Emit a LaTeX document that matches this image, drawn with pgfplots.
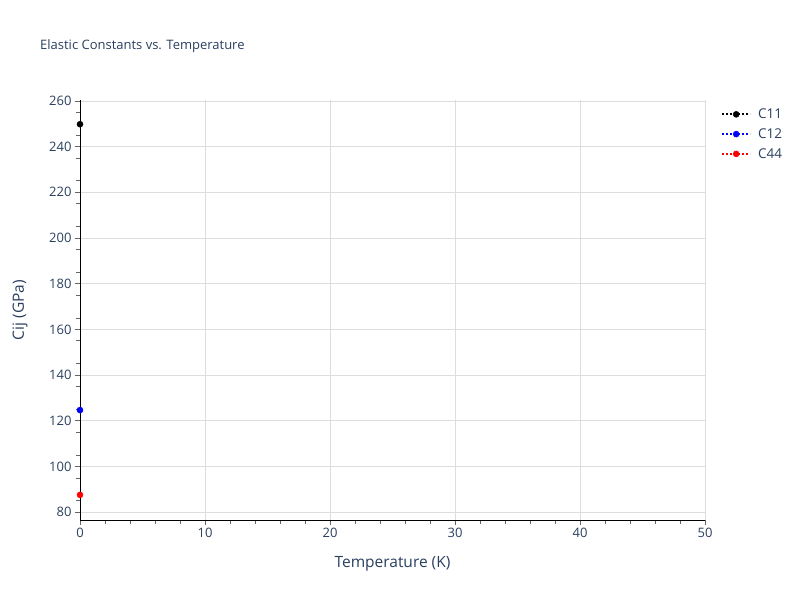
\documentclass[border=0pt]{standalone}
\usepackage{pgfplots}
\pgfplotsset{compat=1.18}
\usepackage{fontspec}
\setmainfont{Open Sans}
\definecolor{txt}{HTML}{2A3F5F}
\definecolor{gridc}{HTML}{DDDDDD}
\begin{document}
\begin{tikzpicture}
\path[use as bounding box] (-80pt,-80pt) rectangle (720pt,520pt);
\begin{axis}[
  name=ax,
  at={(0pt,0pt)}, anchor=south west,
  scale only axis, width=625pt, height=420pt,
  xmin=0, xmax=50, ymin=76.6, ymax=260.4,
  xtick={0,10,20,30,40,50},
  ytick={80,100,...,260},
  minor xtick={2,4,...,48},
  minor ytick={75,85,...,255},
  grid=major,
  major grid style={gridc, line width=0.8pt},
  axis x line*=bottom, axis y line*=left,
  axis line style={-, black, line width=0.9pt},
  tick align=outside,
  major tick length=5pt, minor tick length=4pt,
  every tick/.style={black!60, line width=0.8pt},
  every minor tick/.style={black!60, line width=0.8pt},
  /pgf/number format/assume math mode=true,
  ticklabel style={font=\fontsize{13}{15}\selectfont, text=txt},
  xlabel={Temperature (K)}, ylabel={Cij (GPa)},
  label style={font=\fontsize{15.5}{18}\selectfont, text=txt},
  xlabel style={anchor=center, at={(axis description cs:0.5,0)}, yshift=-44pt},
  ylabel style={anchor=center, at={(axis description cs:0,0.5)}, yshift=60pt},
  clip=false,
  legend style={at={(axis description cs:1,1)}, anchor=north west, xshift=13pt, yshift=-4.5pt,
    draw=none, fill=none, font=\fontsize{13.5}{15}\selectfont, text=txt, row sep=4.5pt},
  legend cell align=left,
  legend image code/.code={\draw[mark repeat=2,mark phase=2,#1] plot coordinates {(0pt,0pt) (14pt,0pt) (28pt,0pt)}; \path (33pt,0pt);},
]
\addplot[black, dash pattern=on 2pt off 2pt, line width=2pt, mark=*, mark size=3pt, mark options={solid, line width=0.5pt}] coordinates {(0,249.8)};
\addlegendentry{C11}
\addplot[blue, dash pattern=on 2pt off 2pt, line width=2pt, mark=*, mark size=3pt, mark options={solid, line width=0.5pt}] coordinates {(0,124.7)};
\addlegendentry{C12}
\addplot[red, dash pattern=on 2pt off 2pt, line width=2pt, mark=*, mark size=3pt, mark options={solid, line width=0.5pt}] coordinates {(0,87.6)};
\addlegendentry{C44}
\end{axis}
\node[anchor=west, font=\fontsize{13}{15}\selectfont, text=txt, inner sep=0] at ([xshift=-40pt,yshift=54pt]ax.north west) {Elastic Constants vs. Temperature};
\end{tikzpicture}
\end{document}
